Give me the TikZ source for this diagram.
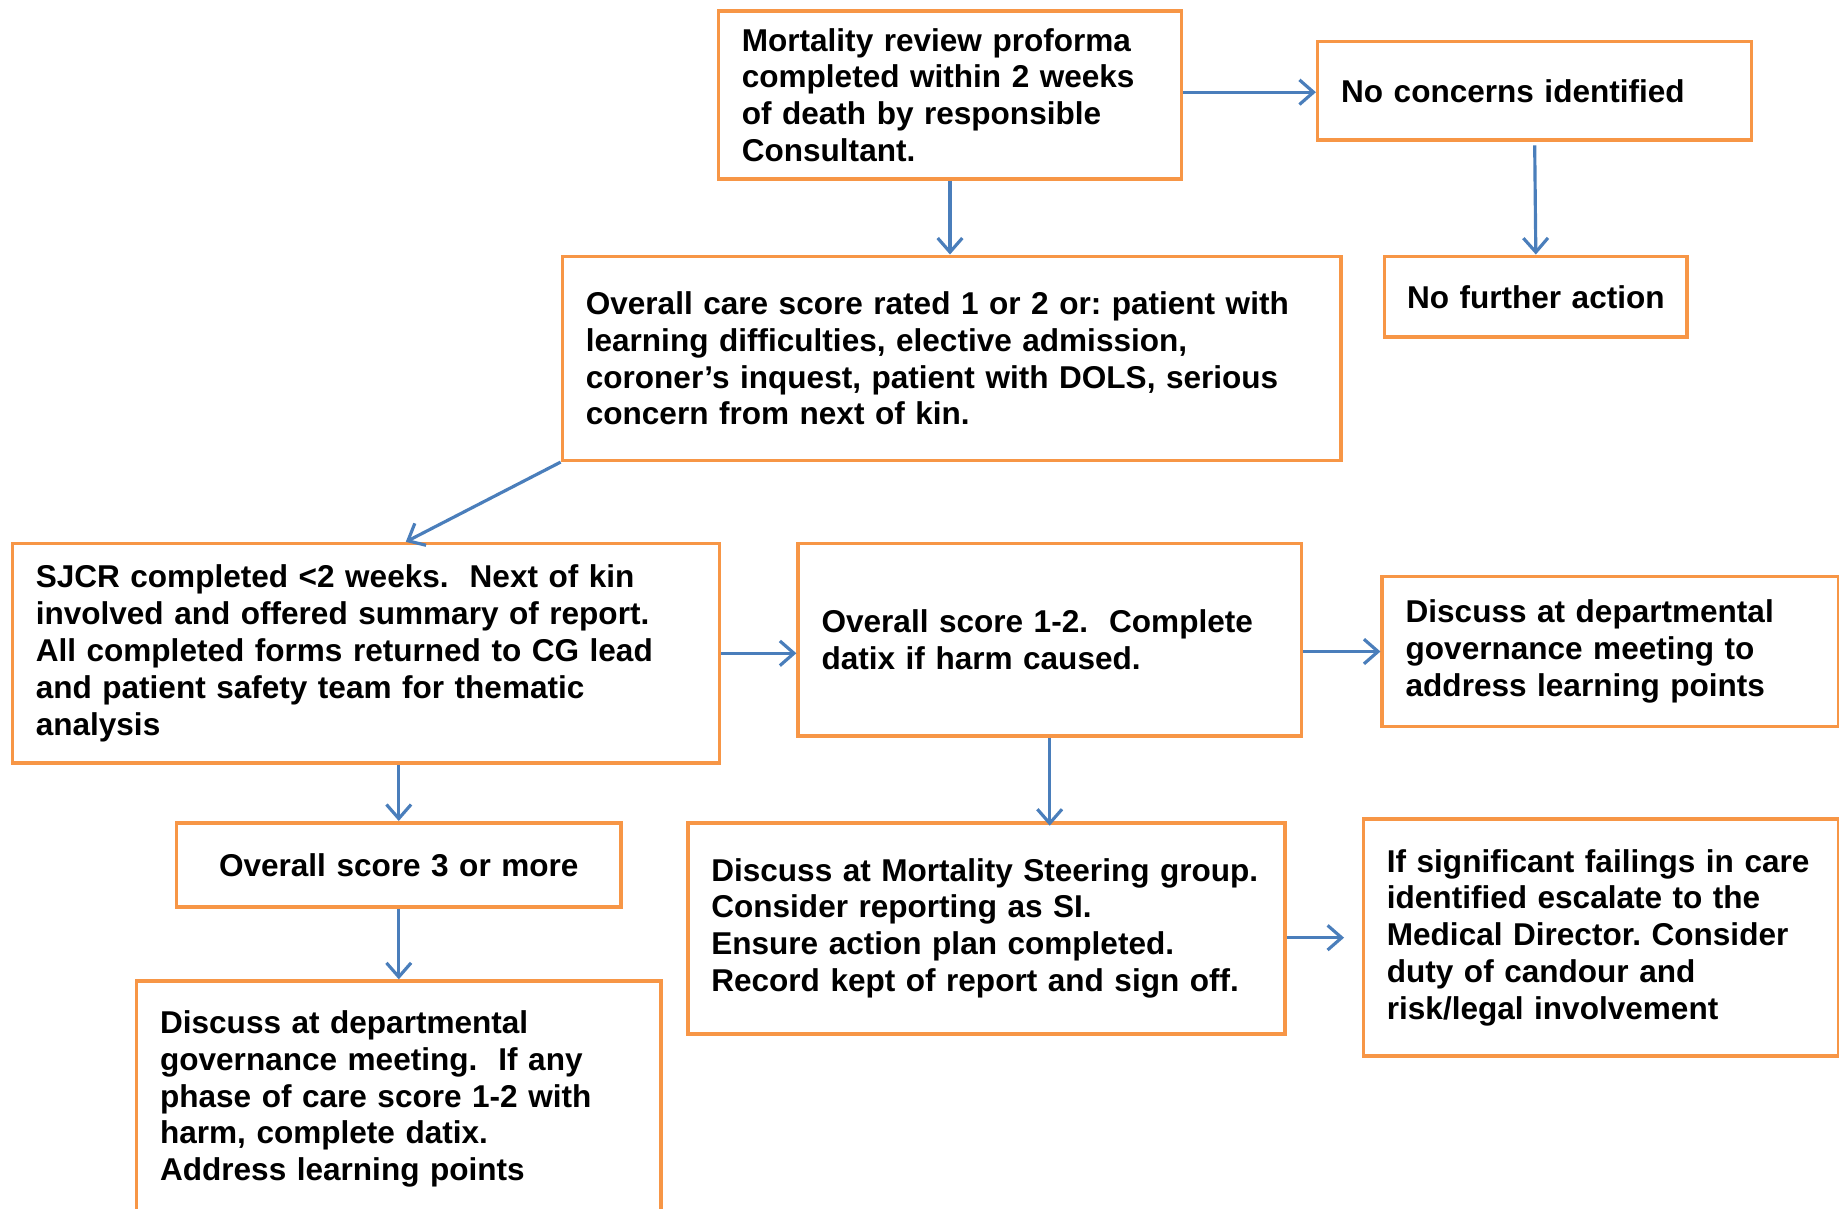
\documentclass[tikz,border=0pt]{standalone}
\usepackage{fontspec}
\setmainfont{Liberation Sans}
\usetikzlibrary{arrows.meta,calc}
\definecolor{boxorange}{HTML}{F79646}
\definecolor{flowblue}{HTML}{4A7EBB}
\tikzset{
  box/.style={draw=boxorange, line width=1.5pt, fill=white, rectangle,
    anchor=north west, inner xsep=10pt, inner ysep=0pt, align=left,
    font=\fontsize{13.45}{15.7}\selectfont\bfseries\frenchspacing},
  cbox/.style={box, inner xsep=2pt, align=center},
  arr/.style={draw=flowblue, line width=1.35pt,
    -{Straight Barb[length=6pt,width=10.5pt]}}
}
\begin{document}
\begin{tikzpicture}[x=0.5pt,y=-0.5pt]
\clip (0,0) rectangle (1568,1030);
\fill[white] (0,0) rectangle (1568,1030);

% boxes
\node[box, text width=177.5pt, minimum height=71.5pt] (mort) at (611,8)
  {Mortality review proforma\\completed within 2 weeks\\of death by responsible\\Consultant.};
\node[box, text width=165pt, minimum height=42pt] (nocon) at (1122,34)
  {No concerns identified};
\node[cbox, text width=125pt, minimum height=34.5pt] (nofurther) at (1179,217)
  {No further action};
\node[box, text width=312pt, minimum height=87pt] (overall) at (478,217)
  {Overall care score rated 1 or 2 or: patient with\\learning difficulties, elective admission,\\coroner’s inquest, patient with DOLS, serious\\concern from next of kin.};
\node[box, text width=281.5pt, minimum height=93.5pt] (sjcr) at (9,462)
  {SJCR completed <2 weeks.\ \ Next of kin\\involved and offered summary of report.\\All completed forms returned to CG lead\\and patient safety team for thematic\\analysis};
\node[box, text width=194.5pt, minimum height=82pt] (score12) at (679,462)
  {Overall score 1-2.\ \ Complete\\datix if harm caused.};
\node[box, text width=174.5pt, minimum height=64pt] (deptR) at (1177,490)
  {Discuss at departmental\\governance meeting to\\address learning points};
\node[cbox, text width=185.5pt, minimum height=36pt] (score3) at (149,700)
  {Overall score 3 or more};
\node[box, text width=234.5pt, minimum height=90pt] (steer) at (585,700)
  {\mbox{Discuss at Mortality Steering group.}\\Consider reporting as SI.\\Ensure action plan completed.\\Record kept of report and sign off.};
\node[box, text width=182.5pt, minimum height=101pt] (fail) at (1161,697)
  {\mbox{If significant failings in care}\\identified escalate to the\\Medical Director. Consider\\duty of candour and\\risk/legal involvement};
\node[box, text width=203.5pt, minimum height=100.5pt] (deptB) at (115,835)
  {Discuss at departmental\\governance meeting.\ \ If any\\phase of care score 1-2 with\\harm, complete datix.\\Address learning points};

% connectors
\draw[arr] (mort.south) -- (mort.south |- overall.north);
\draw[arr] ([yshift=1.2pt]mort.east) -- ([yshift=1.2pt]mort.east -| nocon.west);
\draw[arr, shorten <=1.5pt] (nocon.south) -- (nofurther.north);
\draw[arr] (overall.south west) -- ([xshift=17pt]sjcr.north);
\draw[arr] (sjcr.east) -- (sjcr.east -| score12.west);
\draw[arr] (deptR.west -| score12.east) -- (deptR.west);
\draw[arr] (sjcr.south -| score3.north) -- (score3.north);
\draw[arr, shorten >=-2pt] (score12.south) -- (score12.south |- steer.north);
\draw[arr] (score3.south -| deptB.north) -- (deptB.north);
\draw[arr, shorten >=7.5pt] (fail.west -| steer.east) -- (fail.west);
\end{tikzpicture}
\end{document}
